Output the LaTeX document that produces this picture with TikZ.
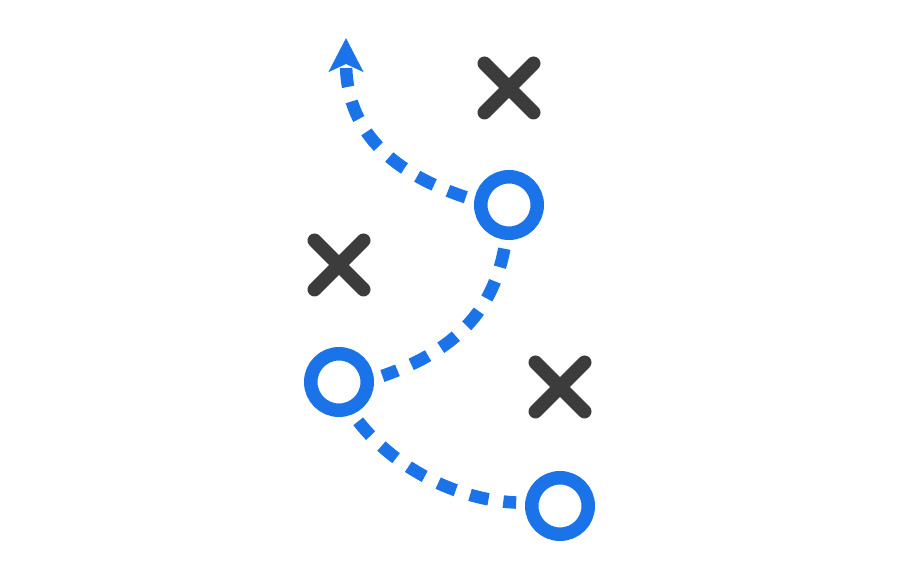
\documentclass[tikz,border=0pt]{standalone}
\usetikzlibrary{arrows.meta,shapes.misc}
\definecolor{pathblue}{HTML}{1A73E8}
\definecolor{xgray}{HTML}{3C3C3C}
\begin{document}
\begin{tikzpicture}[x=1pt,y=1pt,
  ring/.style={circle,draw=pathblue,line width=13.5pt,minimum size=56.5pt,inner sep=0pt},
  xmark/.style={cross out,draw=xgray,line width=14pt,line cap=round,minimum size=49pt,inner sep=0pt,outer sep=0pt},
  route/.style={draw=pathblue,line width=12.5pt,dash pattern=on 19pt off 15pt,shorten <=9pt,shorten >=9pt}]
\useasboundingbox (0,0) rectangle (900,580);
\node[ring] (c1) at (509,375) {};
\node[ring] (c2) at (339,198) {};
\node[ring] (c3) at (560,74) {};
\node[xmark] (x1) at (509,492) {};
\node[xmark] (x2) at (339,315) {};
\node[xmark] (x3) at (560,193) {};
\coordinate (tip) at (346,542);
\draw[route,shorten >=0pt,-{Stealth[length=33.5pt,width=34pt,inset=7.5pt]}] (c1.172) .. controls (390,408) and (346,450) .. (tip);
\draw[route] (c1.-95) .. controls (491.4,262.5) and (447.8,226.8) .. (c2.5);
\draw[route] (c2.-67) .. controls (394.6,112) and (457,80) .. (c3.175);
\end{tikzpicture}
\end{document}
